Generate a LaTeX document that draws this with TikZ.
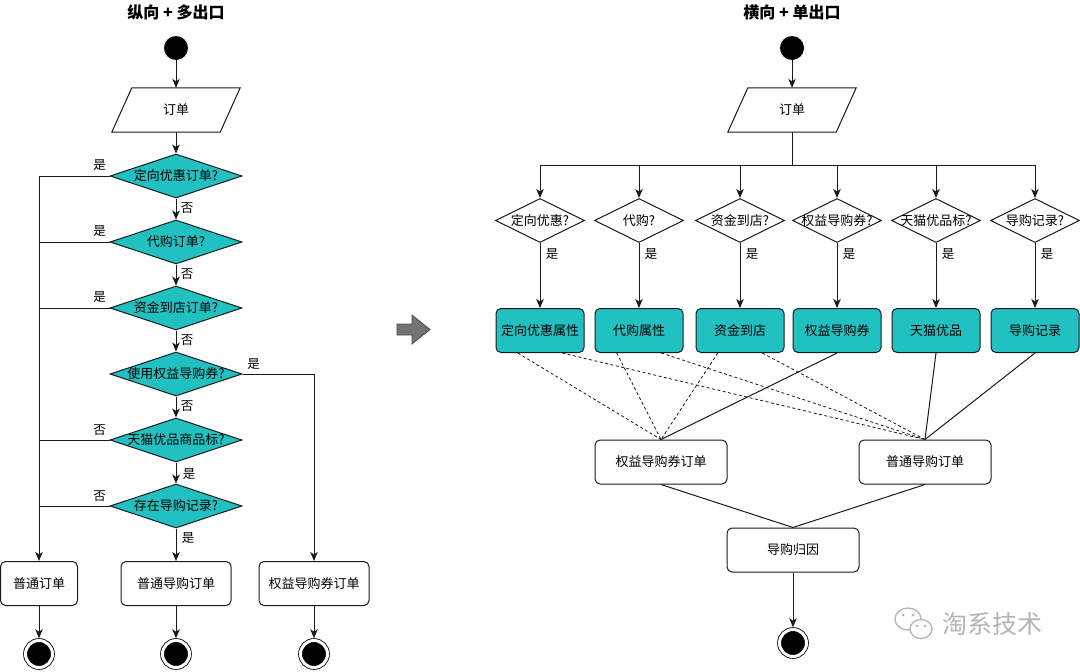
\documentclass[tikz,border=0pt]{standalone}
\usepackage{fontspec}
\setmainfont{Liberation Sans}
\newfontfamily\cjk{Noto Sans CJK SC}
\usetikzlibrary{arrows.meta,shapes.geometric,calc}
\definecolor{teal1}{HTML}{21C1C1}
\definecolor{lineC}{HTML}{1A1A1A}
\definecolor{wmgray}{HTML}{B4B4B4}
\begin{document}
\begin{tikzpicture}[x=1pt,y=-1pt,
  every node/.style={font=\cjk\fontsize{13}{15}\selectfont, text=black},
  conn/.style={draw=lineC, line width=1pt},
  arr/.style={conn, -{Stealth[length=9pt,width=7.5pt,inset=2.5pt]}},
  dash1/.style={draw=lineC, line width=0.8pt, dash pattern=on 3pt off 2.5pt},
  startc/.style={circle, fill=black, minimum size=24pt, inner sep=0pt},
  endc/.style={circle, draw=black, fill=black, double=white, double distance=3pt, line width=0.8pt, minimum size=27pt, inner sep=0pt, outer sep=2.3pt},
  tdia/.style={diamond, draw=lineC, fill=teal1, line width=1pt, inner sep=0pt, minimum width=132pt, minimum height=44pt},
  wdia/.style={diamond, draw=lineC, fill=white, line width=1pt, inner sep=0pt, minimum width=89pt, minimum height=44pt},
  wbox/.style={rectangle, rounded corners=5pt, draw=lineC, fill=white, line width=1pt, minimum height=44pt, inner sep=0pt},
  tbox/.style={rectangle, rounded corners=5pt, draw=lineC, fill=teal1, line width=1pt, minimum width=88pt, minimum height=44pt, inner sep=0pt},
  parab/.style={rectangle, minimum width=108pt, minimum height=44pt, inner sep=0pt},
  lab/.style={font=\cjk\fontsize{12.5}{14}\selectfont, inner sep=0pt},
  ttl/.style={font=\cjk\bfseries\fontsize{16}{18}\selectfont}
]
\useasboundingbox (0,0) rectangle (1080,672);
\fill[white] (0,0) rectangle (1080,672);

% ---------------- left ----------------
\node[ttl] (t1) at (176,12) {纵向 + 多出口};
\node[startc] (s1) at (176,48) {};
\node[parab] (o1) at (176,110) {};
\draw[conn, fill=white] ($(o1.north west)+(10,0)$) -- ($(o1.north east)+(10,0)$) -- ($(o1.south east)+(-10,0)$) -- ($(o1.south west)+(-10,0)$) -- cycle;
\node (o1t) at (o1) {订单};

\node[tdia, label={center:定向优惠订单?}] (d1) at (176,176) {};
\node[tdia, label={center:代购订单?}] (d2) at (176,242) {};
\node[tdia, label={center:资金到店订单?}] (d3) at (176,308) {};
\node[tdia, label={center:使用权益导购券?}] (d4) at (176,374) {};
\node[tdia, label={center:天猫优品商品标?}] (d5) at (176,440) {};
\node[tdia, label={center:存在导购记录?}] (d6) at (176,506) {};

\node[wbox, minimum width=77pt] (n1) at (39,583.5) {普通订单};
\node[wbox, minimum width=110pt] (n2) at (176,583.5) {普通导购订单};
\node[wbox, minimum width=110pt] (n3) at (314,583.5) {权益导购券订单};

\node[endc] (e1) at (39,654) {};
\node[endc] (e2) at (176,654) {};
\node[endc] (e3) at (314,654) {};

\draw[arr] (s1) -- (o1.north);
\draw[arr] (o1.south) -- (d1.north);
\draw[arr] (d1.south) -- (d2.north);
\draw[arr] (d2.south) -- (d3.north);
\draw[arr] (d3.south) -- (d4.north);
\draw[arr] (d4.south) -- (d5.north);
\draw[arr] (d5.south) -- (d6.north);
\draw[arr] (d1.west) -| (n1.north);
\draw[conn] (d2.west) -- (d2.west -| n1.north);
\draw[conn] (d3.west) -- (d3.west -| n1.north);
\draw[conn] (d5.west) -- (d5.west -| n1.north);
\draw[conn] (d6.west) -- (d6.west -| n1.north);
\draw[arr] (d4.east) -| (n3.north);
\draw[arr] (d6.south) -- (n2.north);
\draw[arr] (n1.south) -- (e1);
\draw[arr] (n2.south) -- (e2);
\draw[arr] (n3.south) -- (e3);

\node[lab] (l1) at ($(d1.west)+(-10,-11)$) {是};
\node[lab] (l2) at ($(d2.west)+(-10,-11)$) {是};
\node[lab] (l3) at ($(d3.west)+(-10,-11)$) {是};
\node[lab] (l4) at ($(d5.west)+(-10,-10)$) {否};
\node[lab] (l5) at ($(d6.west)+(-10,-10)$) {否};
\node[lab] (l6) at ($(d1.south)+(11,10)$) {否};
\node[lab] (l7) at ($(d2.south)+(11,10)$) {否};
\node[lab] (l8) at ($(d3.south)+(11,10)$) {否};
\node[lab] (l9) at ($(d4.south)+(11,10)$) {否};
\node[lab] (l10) at ($(d5.south)+(13,12)$) {是};
\node[lab] (l11) at ($(d6.south)+(12,10)$) {是};
\node[lab] (l12) at ($(d4.east)+(11,-10)$) {是};

% ---------------- middle arrow ----------------
\draw[draw=black!70, fill=black!55, line width=0.8pt]
  (397,324) -- (412,324) -- (412,315) -- (430,329.5) -- (412,344) -- (412,335) -- (397,335) -- cycle;

% ---------------- right ----------------
\node[ttl] (t2) at (792,12) {横向 + 单出口};
\node[startc] (s2) at (792,48) {};
\node[parab] (o2) at (792,110) {};
\draw[conn, fill=white] ($(o2.north west)+(10,0)$) -- ($(o2.north east)+(10,0)$) -- ($(o2.south east)+(-10,0)$) -- ($(o2.south west)+(-10,0)$) -- cycle;
\node (o2t) at (o2) {订单};
\draw[arr] (s2) -- (o2.north);
\coordinate (bus) at ($(o2.south)+(0,33)$);

\node[wdia, label={center:定向优惠?}] (r1) at (540,220.5) {};
\node[wdia, label={center:代购?}] (r2) at (639,220.5) {};
\node[wdia, label={center:资金到店?}] (r3) at (740,220.5) {};
\node[wdia, label={center:权益导购券?}] (r4) at (837,220.5) {};
\node[wdia, label={center:天猫优品标?}] (r5) at (936,220.5) {};
\node[wdia, label={center:导购记录?}] (r6) at (1035,220.5) {};

\node[tbox] (b1) at (540,330.5) {定向优惠属性};
\node[tbox] (b2) at (639,330.5) {代购属性};
\node[tbox] (b3) at (740,330.5) {资金到店};
\node[tbox] (b4) at (837,330.5) {权益导购券};
\node[tbox] (b5) at (936,330.5) {天猫优品};
\node[tbox] (b6) at (1035,330.5) {导购记录};

\foreach \i in {1,...,6} {
  \draw[arr] (o2.south) -- (bus) -| (r\i.north);
  \draw[arr] (r\i.south) -- (b\i.north);
  \node[lab] (y\i) at ($(r\i.south)+(12,11)$) {是};
}

\node[wbox, minimum width=132pt] (q1) at (661,462) {权益导购券订单};
\node[wbox, minimum width=132pt] (q2) at (925,462) {普通导购订单};
\node[wbox, minimum width=132pt] (g) at (793,550) {导购归因};
\node[endc] (e4) at (793,643) {};

\foreach \i in {1,2,3} {
  \draw[dash1] ($(b\i.south west)!0.25!(b\i.south east)$) -- (q1.north);
  \draw[dash1] ($(b\i.south west)!0.75!(b\i.south east)$) -- (q2.north);
}
\draw[conn] (b4.south) -- (q1.north);
\draw[conn] (b5.south) -- (q2.north);
\draw[conn] (b6.south) -- (q2.north);
\draw[conn] (q1.south) -- (g.north);
\draw[conn] (q2.south) -- (g.north);
\draw[arr] (g.south) -- (e4);

% ---------------- watermark ----------------
\begin{scope}[draw=wmgray, line width=1.3pt]
  \draw[fill=white] (908,619) ellipse (13pt and 11pt);
  \draw[fill=white] (921,629) ellipse (11pt and 9.5pt);
  \fill[wmgray] (903,615) circle (1.5pt) (913,615) circle (1.5pt);
  \fill[wmgray] (917,626) circle (1.3pt) (925,626) circle (1.3pt);
\end{scope}
\node[font=\cjk\fontsize{25}{27}\selectfont, text=wmgray] (wm) at (992,624) {淘系技术};
\end{tikzpicture}
\end{document}
